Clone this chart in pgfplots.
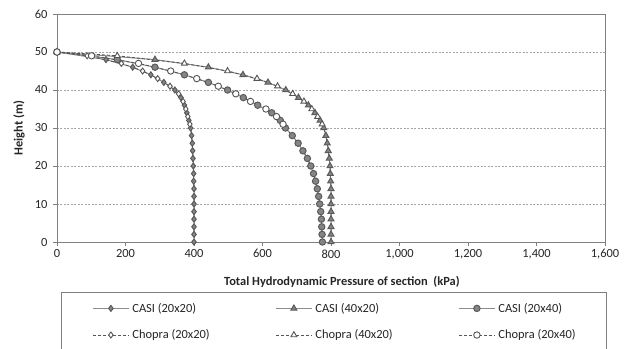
\documentclass[border=0pt]{standalone}
\usepackage{pgfplots}
\pgfplotsset{compat=1.18}
\usepackage{fontspec}
\setmainfont{Carlito}
\definecolor{casiline}{HTML}{8C8C8C}
\definecolor{casifill}{HTML}{858585}
\definecolor{casidraw}{HTML}{5A5A5A}
\definecolor{chopline}{HTML}{555555}
\definecolor{gridc}{HTML}{A6A6A6}
\definecolor{axisc}{HTML}{808080}
\begin{document}
\begin{tikzpicture}
\begin{axis}[
  name=ax, at={(0,0)}, anchor=south west,
  scale only axis, width=548bp, height=228bp,
  xmin=0, xmax=1600, ymin=0, ymax=60,
  xtick={0,200,...,1600}, ytick={0,10,...,60},
  tick align=outside, tick pos=left, major tick length=4bp,
  axis line style={axisc, line width=0.8bp},
  tick style={axisc, line width=0.8bp},
  ymajorgrids, grid style={gridc, dash pattern=on 2bp off 1.5bp, line width=0.7bp},
  /pgf/number format/assume math mode=true,
  /pgf/number format/1000 sep={,},
  ticklabel style={font=\fontsize{12.5}{14}\selectfont, text=black!85},
  yticklabel style={xshift=-2bp},
  every axis x label/.style={at={(axis description cs:0.52,-0.175)}, anchor=center},
  every axis y label/.style={at={(axis description cs:-0.0693,0.5)}, anchor=center, rotate=90},
  label style={font=\bfseries\fontsize{12.5}{14}\selectfont, text=black!85},
  xlabel={Total Hydrodynamic Pressure of section\ \ (kPa)},
  ylabel={Height (m)},
  legend columns=3,
  legend cell align=left,
  legend image code/.code={\draw[mark repeat=2,mark phase=2,#1] plot coordinates {(0bp,0bp) (18bp,0bp) (36bp,0bp)};},
  legend style={at={(axis description cs:0.0073,-0.218)}, anchor=north west,
    draw=axisc, line width=0.8bp, inner xsep=31bp, inner ysep=11bp,
    nodes={inner sep=0pt, font=\fontsize{12.5}{14}\selectfont, text=black!85},
    row sep=16bp},
]
% CASI
\addplot[casiline, line width=1bp, mark=diamond*, mark size=3bp, mark options={fill=casifill, draw=casidraw, solid}] table {
x y
0 50
143 48
221 46
274 44
312 42
344 40
362 38
372 36
379 34
385 32
390 30
393 28
395 26
396 24
397 22
398 20
399 18
399 16
400 14
400 12
400 10
400 8
400 6
400 4
400 2
400 0
};
\addlegendentry{\makebox[146bp][l]{\hspace{3bp}CASI (20x20)}}
\addplot[casiline, line width=1bp, mark=triangle*, mark size=3.4bp, mark options={fill=casifill, draw=casidraw, solid}] table {
x y
0 50
286 48
442 46
543 44
616 42
668 40
705 38
734 36
753 34
768 32
779 30
785 28
789 26
792 24
795 22
797 20
798 18
799 16
800 14
800 12
800 10
800 8
800 6
800 4
800 2
800 0
};
\addlegendentry{\makebox[146bp][l]{\hspace{3bp}CASI (40x20)}}
\addplot[casiline, line width=1bp, mark=*, mark size=3.2bp, mark options={fill=casifill, draw=casidraw, solid}] table {
x y
0 50
176 48
286 46
372 44
442 42
498 40
544 38
586 36
627 34
652 32
667 30
687 28
704 26
718 24
731 22
741 20
749 18
755 16
760 14
764 12
767 10
770 8
772 6
773 4
774 2
775 0
};
\addlegendentry{\hspace{3bp}CASI (20x40)}
% Chopra lower parts (no marks)
\addplot[chopline, line width=0.9bp, dash pattern=on 3bp off 2bp, forget plot] table {
x y
388 31
390 30
393 28
395 26
396 24
397 22
398 20
399 18
399 16
400 14
400 12
400 10
400 8
400 6
400 4
400 2
400 0
};
\addplot[chopline, line width=0.9bp, dash pattern=on 3bp off 2bp, forget plot] table {
x y
774 31
779 30
785 28
789 26
792 24
795 22
797 20
798 18
799 16
800 14
800 12
800 10
800 0
};
\addplot[chopline, line width=0.9bp, dash pattern=on 3bp off 2bp, forget plot] table {
x y
660 31
667 30
687 28
704 26
718 24
731 22
741 20
749 18
755 16
760 14
764 12
767 10
770 8
772 6
773 4
774 2
775 0
};
% Chopra
\addplot[chopline, line width=0.9bp, dash pattern=on 3bp off 2bp, mark=diamond*, mark size=3bp, mark options={fill=white, draw=chopline, solid}] table {
x y
0 50
88 49
188 47
250 45
294 43
330 41
355 39
368 37
376 35
382 33
388 31
};
\addlegendentry{\makebox[146bp][l]{\hspace{3bp}Chopra (20x20)}}
\addplot[chopline, line width=0.9bp, dash pattern=on 3bp off 2bp, mark=triangle*, mark size=3.4bp, mark options={fill=white, draw=chopline, solid}] table {
x y
0 50
176 49
372 47
498 45
584 43
644 41
688 39
721 37
744 35
761 33
774 31
};
\addlegendentry{\makebox[146bp][l]{\hspace{3bp}Chopra (40x20)}}
\addplot[chopline, line width=0.9bp, dash pattern=on 3bp off 2bp, mark=*, mark size=3.2bp, mark options={fill=white, draw=chopline, solid}] table {
x y
0 50
101 49
238 47
332 45
408 43
471 41
522 39
565 37
610 35
641 33
660 31
};
\addlegendentry{\hspace{3bp}Chopra (20x40)}
\end{axis}
\pgfresetboundingbox
\path ([xshift=-57bp,yshift=-107bp]ax.south west) rectangle ([xshift=24bp,yshift=14bp]ax.north east);
\end{tikzpicture}
\end{document}
